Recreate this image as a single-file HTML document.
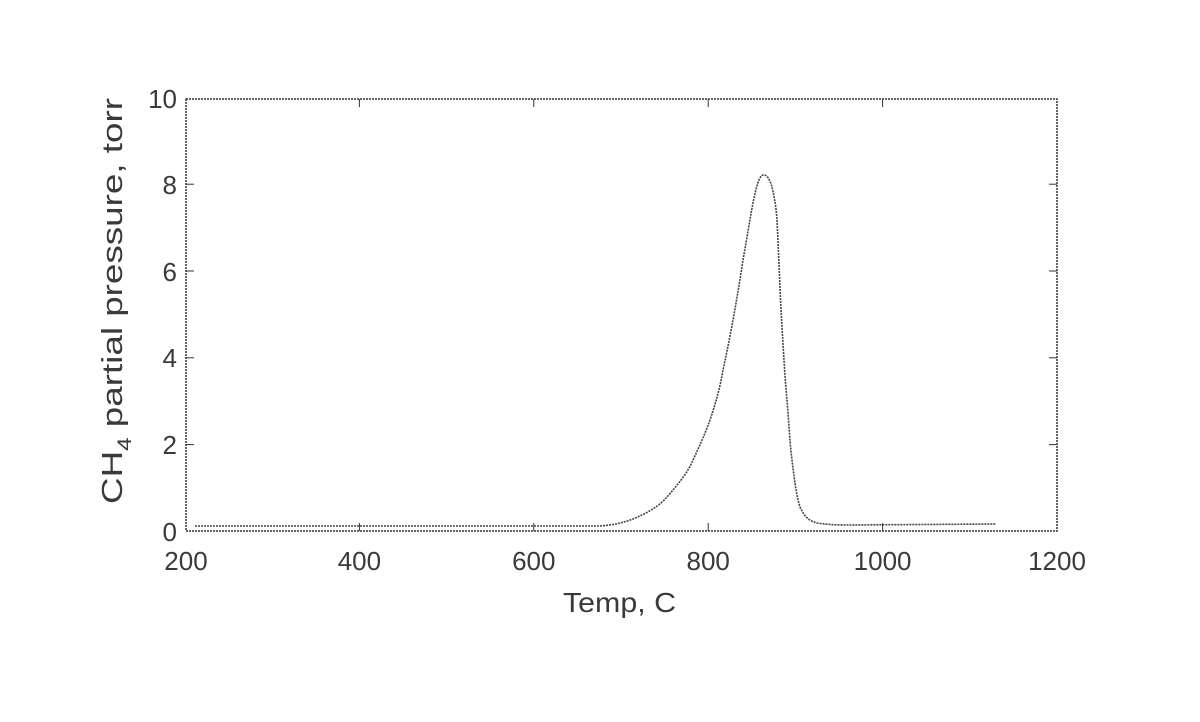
<!DOCTYPE html>
<html><head><style>
body{margin:0;background:#fff;}
svg text{font-family:"Liberation Sans",sans-serif;fill:#3a3a3a;}
</style></head><body>
<svg width="1200" height="717" viewBox="0 0 1200 717" xmlns="http://www.w3.org/2000/svg">
<rect x="186" y="99" width="871" height="432" fill="none" stroke="#333" stroke-width="1.5" stroke-dasharray="2,1"/>
<g stroke="#333" stroke-width="1">
<line x1="359.4" y1="531" x2="359.4" y2="523"/><line x1="533.8" y1="531" x2="533.8" y2="523"/><line x1="708.2" y1="531" x2="708.2" y2="523"/><line x1="882.6" y1="531" x2="882.6" y2="523"/>
<line x1="359.4" y1="99" x2="359.4" y2="107"/><line x1="533.8" y1="99" x2="533.8" y2="107"/><line x1="708.2" y1="99" x2="708.2" y2="107"/><line x1="882.6" y1="99" x2="882.6" y2="107"/>
<line x1="186" y1="444.6" x2="194" y2="444.6"/><line x1="186" y1="357.8" x2="194" y2="357.8"/><line x1="186" y1="271" x2="194" y2="271"/><line x1="186" y1="184.2" x2="194" y2="184.2"/>
<line x1="1057" y1="444.6" x2="1049" y2="444.6"/><line x1="1057" y1="357.8" x2="1049" y2="357.8"/><line x1="1057" y1="271" x2="1049" y2="271"/><line x1="1057" y1="184.2" x2="1049" y2="184.2"/>
</g>
<g font-size="26" text-anchor="middle">
<text x="186" y="570">200</text><text x="359.4" y="570">400</text><text x="533.8" y="570">600</text><text x="708.2" y="570">800</text><text x="882.6" y="570">1000</text><text x="1057" y="570">1200</text>
</g>
<g font-size="26" text-anchor="end">
<text x="177" y="541">0</text><text x="177" y="454">2</text><text x="177" y="367">4</text><text x="177" y="281">6</text><text x="177" y="194">8</text><text x="177" y="108">10</text>
</g>
<text x="563" y="612" font-size="28" textLength="113" lengthAdjust="spacingAndGlyphs">Temp, C</text>
<text transform="translate(122,504) rotate(-90)" font-size="29" textLength="406" lengthAdjust="spacingAndGlyphs">CH<tspan font-size="19" dy="9">4</tspan><tspan dy="-9"> partial pressure, torr</tspan></text>
<path fill="none" stroke="#444" stroke-width="1.6" stroke-dasharray="2,1"
d="M195,526 L600,526 C615,525 625,522 633,519 C650,512 660,505 667,497 C680,482 688,472 693,460 C700,445 705,434 710,420 C716,402 720,388 723,370 C727,352 730,336 733,320 C737,298 740,280 743,260 C747,238 750,218 753,203 C756,188 759,176 763,175 C767,174 770,180 772,187 C774,196 776,205 777,220 C779,260 780,295 782,327 C784,360 785,380 787,400 C789,425 790,445 792,460 C795,485 797,498 800,507 C805,518 810,521 817,523 C830,525 840,525 850,525 L996,524"/>
</svg>
</body></html>
